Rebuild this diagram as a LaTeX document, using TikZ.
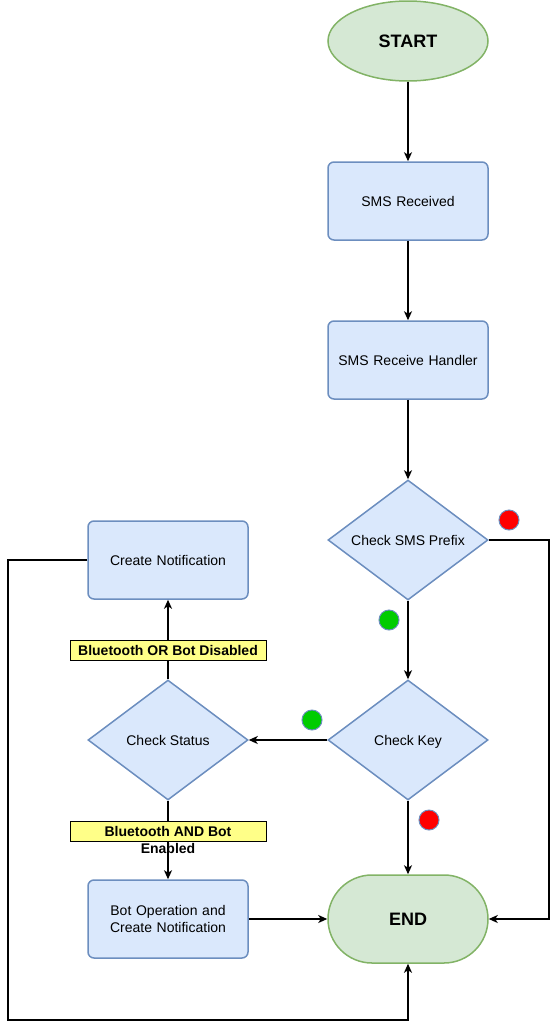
\documentclass[tikz,border=0pt]{standalone}
\usepackage{fontspec}
\setmainfont{Liberation Sans}
\usetikzlibrary{shapes.geometric,arrows.meta}
\definecolor{gfill}{HTML}{D5E8D4}
\definecolor{gdraw}{HTML}{82B366}
\definecolor{bfill}{HTML}{DAE8FC}
\definecolor{bdraw}{HTML}{6C8EBF}
\definecolor{lfill}{HTML}{FFFF88}
\definecolor{dotgreen}{HTML}{00CC00}
\definecolor{dotred}{HTML}{FF0000}
\begin{document}
\begin{tikzpicture}[x=1pt,y=-1pt,
  txt/.style={font=\fontsize{14}{17}\selectfont},
  proc/.style={txt, rectangle, rounded corners=6pt, draw=bdraw, fill=bfill, line width=1.5pt,
    minimum width=160pt, minimum height=78pt, inner sep=2pt, align=center, text width=150pt},
  dec/.style={txt, diamond, aspect=1.333, draw=bdraw, fill=bfill, line width=1.5pt,
    minimum width=160pt, minimum height=120pt, inner sep=0pt, text height=11pt, text depth=1pt},
  termell/.style={ellipse, draw=gdraw, fill=gfill, line width=1.5pt, minimum width=160pt,
    minimum height=80pt, inner sep=0pt, font=\fontsize{18}{21}\selectfont\bfseries},
  termrect/.style={rectangle, rounded corners=44pt, draw=gdraw, fill=gfill, line width=1.5pt,
    minimum width=160pt, minimum height=88pt, inner sep=0pt, font=\fontsize{18}{21}\selectfont\bfseries},
  lblbox/.style={rectangle, draw=black, line width=0.8pt, fill=lfill, minimum width=196pt,
    minimum height=20pt, inner sep=0pt},
  lbltxt/.style={font=\fontsize{14}{17}\selectfont\bfseries, align=center, inner sep=0pt},
  dot/.style={circle, draw=bdraw, line width=1pt, minimum size=20pt, inner sep=0pt},
  conn/.style={draw=black, line width=1.5pt, -{Stealth[length=9pt,width=8pt,inset=2.5pt]}}
]
\useasboundingbox (0,0) rectangle (557,1029);

\node[termell] (start) at (408,41) {START};
\node[proc] (recv) at (408,201) {SMS Received};
\node[proc] (handler) at (408,360) {SMS Receive Handler};
\node[dec] (prefix) at (408,540) {Check SMS Prefix};
\node[dec] (key) at (408,740) {Check Key};
\node[dec] (status) at (168,740) {Check Status};
\node[proc] (notif) at (168,560) {Create Notification};
\node[proc] (botop) at (168,919) {Bot Operation and\\Create Notification};
\node[termrect] (end) at (408,919) {END};

\coordinate (pr1) at (549,540);
\coordinate (pr2) at (549,919);
\coordinate (nt1) at (8,560);
\coordinate (nt2) at (8,1020);
\coordinate (nt3) at (408,1020);

\draw[conn] (start) -- (recv);
\draw[conn] (recv) -- (handler);
\draw[conn] (handler) -- (prefix);
\draw[conn] (prefix.south) -- (key.north);
\draw[conn] (prefix.east) -- (pr1) -- (pr2) -- (end.east);
\draw[conn] (key.west) -- (status.east);
\draw[conn] (key.south) -- (end.north);
\draw[conn] (status.north) -- (notif.south);
\draw[conn] (status.south) -- (botop.north);
\draw[conn] (botop.east) -- (end.west);
\draw[conn] (notif.west) -- (nt1) -- (nt2) -- (nt3) -- (end.south);

\node[lblbox] (lbl1) at (168,650) {};
\node[lbltxt] (lbl1t) at (168,650) {Bluetooth OR Bot Disabled};
\node[lblbox] (lbl2) at (168,831) {};
\node[lbltxt] (lbl2t) at (168,839.5) {Bluetooth AND Bot\\Enabled};

\node[dot, fill=dotgreen] (d1) at (389,620) {};
\node[dot, fill=dotred] (d2) at (509,520) {};
\node[dot, fill=dotgreen] (d3) at (312,720) {};
\node[dot, fill=dotred] (d4) at (429,820) {};
\end{tikzpicture}
\end{document}
